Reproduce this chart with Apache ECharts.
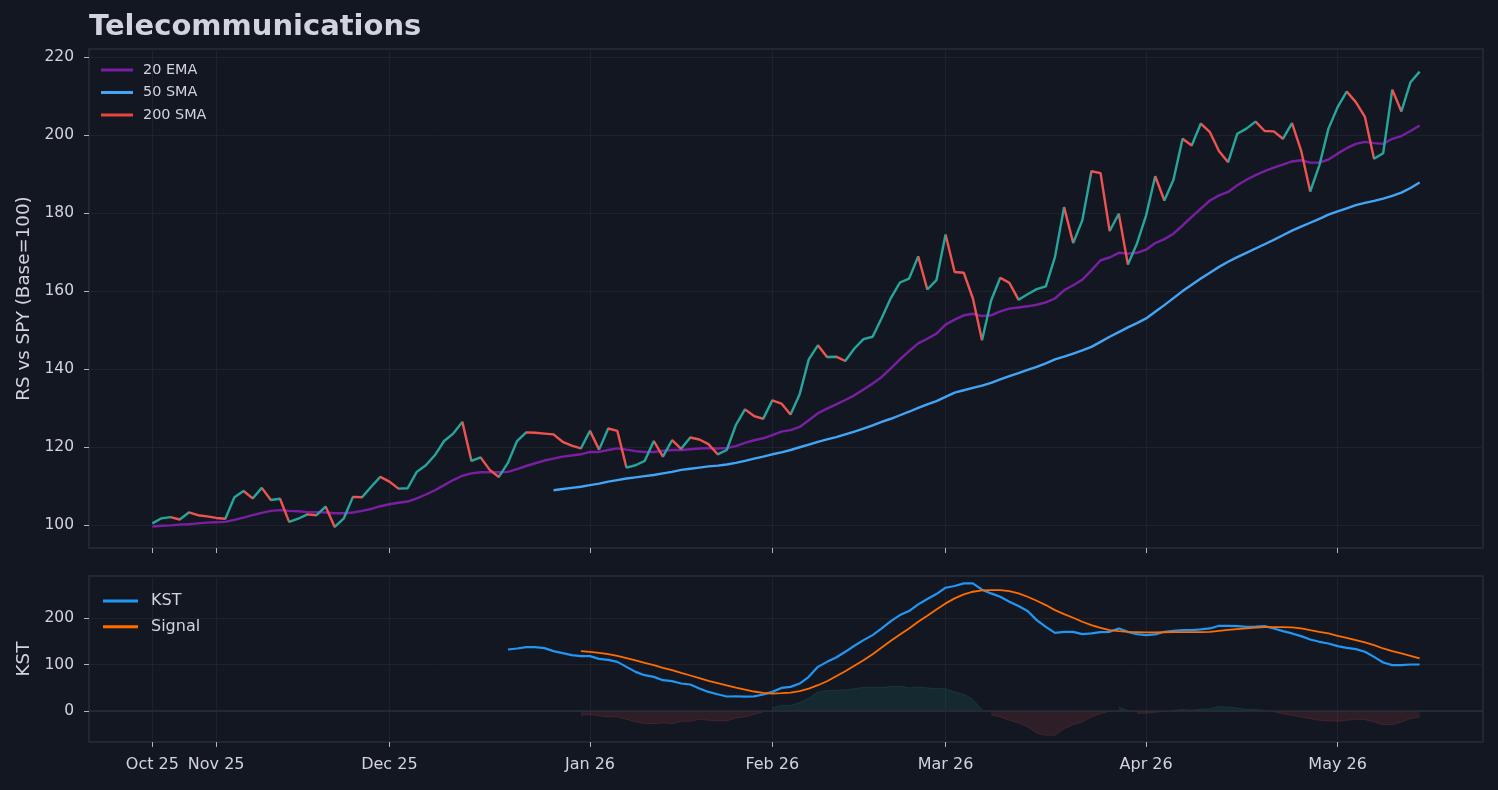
<!DOCTYPE html>
<html><head><meta charset="utf-8">
<script src="https://cdn.jsdelivr.net/npm/echarts@6/dist/echarts.min.js"></script>
<style>html,body{margin:0;padding:0;background:#131722;}#chart{width:1498px;height:790px;}</style>
</head><body><div id="chart"></div>
<script>
const chartTitle = "Telecommunications";
const tickIndex = [0, 7, 26, 48, 68, 87, 109, 130];
const tickLabels = ["Oct 25", "Nov 25", "Dec 25", "Jan 26", "Feb 26", "Mar 26", "Apr 26", "May 26"];
const rsTicks = [100, 120, 140, 160, 180, 200, 220];
const kstTicks = [0, 100, 200];

const rs = [100.5,101.8,102.1,101.5,103.3,102.6,102.3,101.9,101.7,107.2,
108.8,106.9,109.6,106.5,106.8,100.9,101.7,102.8,102.6,104.8,
99.6,101.8,107.3,107.2,109.9,112.4,111.2,109.4,109.5,113.7,
115.4,118.0,121.6,123.5,126.5,116.5,117.4,114.2,112.4,116.0,
121.6,123.8,123.7,123.5,123.3,121.4,120.4,119.7,124.2,119.4,
124.8,124.2,114.8,115.4,116.5,121.6,117.6,121.8,119.6,122.5,
122.0,120.8,118.2,119.3,125.7,129.7,128.0,127.3,132.0,131.2,
128.4,133.6,142.5,146.1,143.1,143.2,142.1,145.3,147.7,148.3,
153.1,158.2,162.2,163.2,168.9,160.4,162.8,174.5,164.9,164.7,
158.1,147.4,157.6,163.4,162.1,157.8,159.2,160.5,161.2,168.7,
181.5,172.3,178.1,190.7,190.2,175.4,179.8,166.8,172.2,179.4,
189.4,183.2,188.5,199.0,197.3,202.9,200.7,195.8,193.0,200.3,
201.6,203.4,201.0,200.9,199.0,203.0,196.0,185.5,192.2,201.6,
207.1,211.1,208.4,204.6,193.9,195.3,211.6,206.0,213.5,216.2];

const ema20 = [99.7,99.9,100.0,100.2,100.3,100.5,100.7,100.8,100.9,101.4,
102.0,102.6,103.2,103.7,103.9,103.7,103.6,103.4,103.4,103.3,
103.1,103.1,103.3,103.7,104.2,104.9,105.4,105.8,106.1,106.9,
107.9,109.0,110.3,111.6,112.7,113.3,113.6,113.6,113.6,113.7,
114.4,115.2,115.9,116.6,117.1,117.6,117.9,118.2,118.8,118.8,
119.3,119.7,119.4,119.0,118.8,118.8,119.1,119.3,119.3,119.5,
119.7,119.8,119.7,119.8,120.3,121.1,121.8,122.3,123.1,124.0,
124.4,125.2,126.9,128.7,129.9,131.0,132.1,133.3,134.8,136.3,
138.0,140.2,142.5,144.6,146.6,147.8,149.1,151.4,152.7,153.8,
154.2,153.6,153.8,154.8,155.5,155.8,156.1,156.5,157.1,158.1,
160.2,161.5,162.9,165.3,167.9,168.6,169.8,169.6,169.8,170.6,
172.3,173.3,174.7,176.8,179.0,181.1,183.2,184.5,185.4,187.1,
188.5,189.7,190.7,191.6,192.4,193.2,193.5,192.9,192.9,193.7,
195.2,196.6,197.7,198.2,197.9,197.7,199.0,199.7,201.0,202.4];

const sma50Start = 44;
const sma50 = [109.0,109.3,109.6,109.9,110.3,110.7,
111.2,111.6,112.0,112.3,112.6,112.9,113.3,113.7,114.2,114.5,
114.8,115.1,115.3,115.6,116.0,116.5,117.1,117.6,118.2,118.7,
119.3,120.0,120.7,121.4,122.0,122.6,123.3,124.0,124.8,125.6,
126.5,127.3,128.2,129.1,130.1,131.0,131.8,132.9,134.0,134.6,
135.2,135.8,136.5,137.4,138.2,139.0,139.8,140.6,141.5,142.5,
143.2,144.0,144.8,145.7,147.0,148.3,149.5,150.7,151.8,153.0,
154.7,156.4,158.2,160.0,161.6,163.2,164.7,166.2,167.5,168.7,
169.8,170.9,172.0,173.1,174.3,175.5,176.5,177.5,178.5,179.6,
180.4,181.2,182.0,182.6,183.1,183.7,184.4,185.2,186.4,187.8];

const kstStart = 39;
const kst = [132.8,
135.0,137.9,137.9,135.7,129.2,124.9,120.6,118.4,118.4,112.6,
110.4,106.1,95.2,84.4,77.3,73.6,66.4,64.3,59.3,57.1,
48.5,41.1,36.1,31.2,31.8,31.0,31.5,35.5,41.2,49.8,
52.0,59.2,73.7,95.3,106.1,115.5,127.8,140.8,153.0,163.9,
178.3,194.1,207.1,215.8,230.2,241.8,252.6,266.3,269.9,275.7,
275.7,262.0,254.0,246.8,236.0,226.6,215.8,196.3,181.8,168.8,
171.0,171.0,166.0,167.5,170.3,171.0,178.3,171.0,166.0,163.9,
165.3,171.0,173.2,174.6,174.6,176.1,178.3,184.0,184.0,183.3,
181.8,182.5,183.3,178.3,172.5,167.5,161.7,154.5,149.4,145.8,
140.0,136.4,133.5,127.8,116.9,104.7,98.9,98.9,100.4,100.4];

const signalStart = 47;
const signal = [129.2,127.8,125.5,
122.7,119.1,114.1,109.1,103.9,98.9,93.1,88.1,82.3,76.6,
70.8,64.9,60.0,55.0,50.6,46.3,42.0,39.1,37.6,38.3,
39.8,42.7,48.4,55.6,64.2,75.1,85.9,97.5,109.7,122.7,
137.2,151.6,165.3,178.3,192.7,205.7,219.4,232.4,243.2,251.9,
257.6,260.5,261.2,261.2,259.1,254.0,246.8,238.1,228.8,217.9,
209.3,201.3,192.7,185.5,179.7,174.6,172.5,171.0,170.3,169.6,
169.6,170.0,170.3,170.3,170.3,170.5,171.0,173.2,175.3,176.8,
178.3,180.0,181.1,181.1,181.1,180.4,178.3,174.6,171.0,167.5,
162.4,158.0,153.0,148.0,142.2,135.0,129.2,124.2,119.1,113.4];

const histStart = 47;
const hist = [-9.4,-7.9,-10.8,
-13.0,-13.0,-18.0,-23.8,-27.4,-27.4,-26.0,-27.4,-22.4,-22.4,
-18.0,-20.2,-21.6,-21.6,-15.2,-13.0,-7.5,-2.5,6.5,12.3,
12.3,18.0,28.0,41.0,44.0,44.7,46.0,48.0,51.0,51.0,
51.0,52.7,53.4,49.8,52.0,49.8,48.3,48.3,41.0,36.0,
25.0,2.0,-8.5,-13.0,-20.0,-26.0,-34.6,-47.6,-52.7,-52.7,
-38.2,-29.6,-23.8,-13.0,-5.8,-0.7,7.2,1.4,-5.0,-5.0,
-3.0,-0.7,1.4,2.9,2.0,3.6,5.0,9.4,8.7,6.5,
3.6,2.9,2.0,-2.0,-6.0,-9.4,-13.0,-16.6,-20.2,-21.6,
-22.4,-20.2,-18.0,-18.8,-23.8,-29.6,-29.6,-23.8,-16.6,-13.0];

const UP = '#26a69a', DOWN = '#ef5350';
const TEXT = '#d1d4dc', SPINE = '#2a2e39', GRID = '#1e222d', TICK = '#b2b5be';
const FONT = 'DejaVu Sans';

const rsData = rs.map((v, i) => [i, v]);
const emaData = ema20.map((v, i) => [i, v]);
const smaData = sma50.map((v, k) => [k + sma50Start, v]);
const kstData = kst.map((v, k) => [k + kstStart, v]);
const sigData = signal.map((v, k) => [k + signalStart, v]);
const histPos = hist.map((v, k) => [k + histStart, v >= 0 ? v : null]);
const histNeg = hist.map((v, k) => [k + histStart, v < 0 ? v : null]);

const pieces = [];
for (let i = 0; i < rs.length - 1; i++) {
  pieces.push({ gte: i, lt: i + 1, color: rs[i + 1] >= rs[i] ? UP : DOWN });
}
pieces.push({ gte: rs.length - 1, lte: rs.length, color: UP });

const xMin = -6.95, xMax = 145.95;
function xAxisCfg(grid, showLabels) {
  return {
    type: 'value', gridIndex: grid, min: xMin, max: xMax, position: 'bottom',
    axisLine: { show: false, onZero: false },
    axisTick: { show: true, customValues: tickIndex, length: 5, lineStyle: { color: TICK, width: 1 } },
    axisLabel: {
      show: showLabels, customValues: tickIndex, margin: 15, color: TEXT, fontSize: 16, fontFamily: FONT,
      formatter: v => { const k = tickIndex.indexOf(Math.round(v)); return k >= 0 ? tickLabels[k] : ''; }
    },
    splitLine: { show: true, lineStyle: { color: GRID, width: 1 } }
  };
}
function yAxisCfg(grid, min, max, ticks, name) {
  return {
    type: 'value', gridIndex: grid, min: min, max: max, position: 'left',
    axisLine: { show: false, onZero: false },
    axisTick: { show: true, customValues: ticks, length: 5, lineStyle: { color: TICK, width: 1 } },
    axisLabel: { customValues: ticks, margin: 15, color: TEXT, fontSize: 15.5, fontFamily: FONT },
    splitLine: { show: true, lineStyle: { color: GRID, width: 1 } },
    name: name, nameLocation: 'middle', nameGap: 55,
    nameTextStyle: { color: TEXT, fontSize: 18.3, fontFamily: FONT }
  };
}

const chart = echarts.init(document.getElementById('chart'), null, { renderer: 'canvas' });
chart.setOption({
  backgroundColor: '#131722',
  animation: false,
  textStyle: { fontFamily: FONT },
  title: {
    text: chartTitle, left: 89, top: 13, padding: 0,
    textStyle: { color: TEXT, fontSize: 29, fontWeight: 'bold', fontFamily: FONT }
  },
  grid: [
    { left: 89, right: 15, top: 49, height: 499, show: true, borderColor: SPINE, borderWidth: 1.4, backgroundColor: 'transparent' },
    { left: 89, right: 15, top: 576, height: 166, show: true, borderColor: SPINE, borderWidth: 1.4, backgroundColor: 'transparent' }
  ],
  xAxis: [xAxisCfg(0, false), xAxisCfg(1, true)],
  yAxis: [
    yAxisCfg(0, 94.2, 222.0, rsTicks, 'RS vs SPY (Base=100)'),
    yAxisCfg(1, -67.1, 291.6, kstTicks, 'KST')
  ],
  legend: [
    {
      data: ['20 EMA', '50 SMA', '200 SMA'], orient: 'vertical', left: 101, top: 62, padding: 0,
      itemWidth: 32, itemHeight: 3, itemGap: 6.5, icon: 'rect', selectedMode: false,
      textStyle: { color: TEXT, fontSize: 14.4, lineHeight: 16, fontFamily: FONT, padding: [0, 0, 0, 5] }
    },
    {
      data: ['KST', 'Signal'], orient: 'vertical', left: 103, top: 592, padding: 0,
      itemWidth: 35, itemHeight: 3, itemGap: 7.7, icon: 'rect', selectedMode: false,
      textStyle: { color: TEXT, fontSize: 16, lineHeight: 18, fontFamily: FONT, padding: [0, 0, 0, 8] }
    }
  ],
  visualMap: {
    type: 'piecewise', show: false, dimension: 0, seriesIndex: 0, pieces: pieces
  },
  series: [
    { name: 'RS', type: 'line', xAxisIndex: 0, yAxisIndex: 0, data: rsData, showSymbol: false,
      lineStyle: { width: 2.4 }, z: 4 },
    { name: '20 EMA', type: 'line', xAxisIndex: 0, yAxisIndex: 0, data: emaData, showSymbol: false,
      color: '#7b1fa2', lineStyle: { width: 2.4, color: '#7b1fa2' }, z: 3 },
    { name: '50 SMA', type: 'line', xAxisIndex: 0, yAxisIndex: 0, data: smaData, showSymbol: false,
      color: '#42a5f5', lineStyle: { width: 2.4, color: '#42a5f5' }, z: 3 },
    { name: '200 SMA', type: 'line', xAxisIndex: 0, yAxisIndex: 0, data: [], showSymbol: false,
      color: '#e8453c', lineStyle: { width: 2.4, color: '#e8453c' } },
    { name: 'histPos', type: 'line', xAxisIndex: 1, yAxisIndex: 1, data: histPos, showSymbol: false,
      connectNulls: false, lineStyle: { width: 0.8, color: 'rgba(38,166,154,0.2)' },
      areaStyle: { color: 'rgba(38,166,154,0.18)', origin: 0 }, z: 1,
      markLine: { silent: true, symbol: 'none', label: { show: false },
        lineStyle: { color: SPINE, width: 1.6, type: 'solid' }, data: [{ yAxis: 0 }] } },
    { name: 'histNeg', type: 'line', xAxisIndex: 1, yAxisIndex: 1, data: histNeg, showSymbol: false,
      connectNulls: false, lineStyle: { width: 0.8, color: 'rgba(239,83,80,0.2)' },
      areaStyle: { color: 'rgba(239,83,80,0.18)', origin: 0 }, z: 1 },
    { name: 'KST', type: 'line', xAxisIndex: 1, yAxisIndex: 1, data: kstData, showSymbol: false,
      color: '#2196f3', lineStyle: { width: 2.2, color: '#2196f3' }, z: 3 },
    { name: 'Signal', type: 'line', xAxisIndex: 1, yAxisIndex: 1, data: sigData, showSymbol: false,
      color: '#ff6d00', lineStyle: { width: 1.8, color: '#ff6d00' }, z: 3 }
  ]
});
</script></body></html>
